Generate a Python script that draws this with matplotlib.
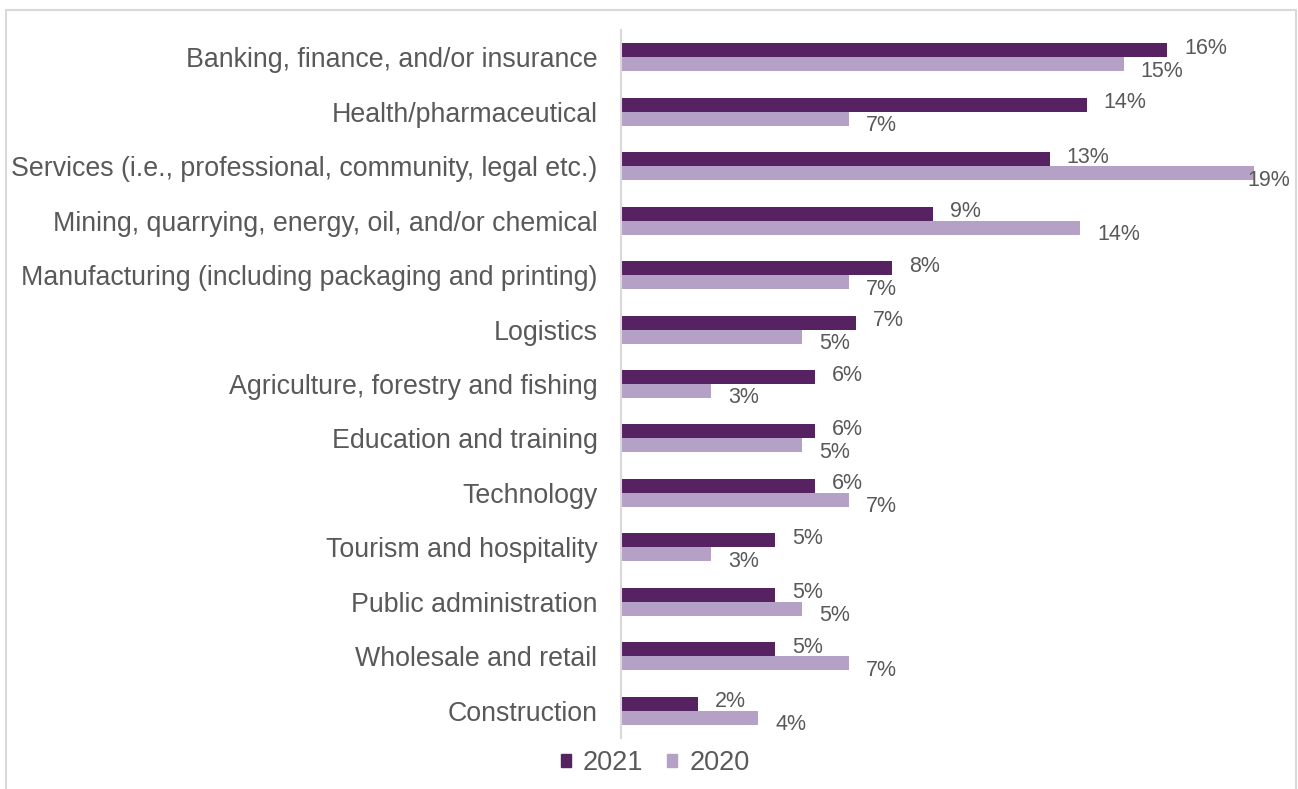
import matplotlib
matplotlib.use("Agg")
import matplotlib.pyplot as plt
from matplotlib.patches import Patch, Rectangle

plt.rcParams["font.family"] = ["Liberation Sans", "DejaVu Sans"]

CATEGORIES = [
    "Banking, finance, and/or insurance",
    "Health/pharmaceutical",
    "Services (i.e., professional, community, legal etc.)",
    "Mining, quarrying, energy, oil, and/or chemical",
    "Manufacturing (including packaging and printing)",
    "Logistics",
    "Agriculture, forestry and fishing",
    "Education and training",
    "Technology",
    "Tourism and hospitality",
    "Public administration",
    "Wholesale and retail",
    "Construction",
]
SHARE_2021 = [16.3, 13.9, 12.8, 9.3, 8.1, 7.0, 5.8, 5.8, 5.8, 4.6, 4.6, 4.6, 2.3]
SHARE_2020 = [15.0, 6.8, 18.9, 13.7, 6.8, 5.4, 2.7, 5.4, 6.8, 2.7, 5.4, 6.8, 4.1]

COLOR_2021 = "#562262"
COLOR_2020 = "#B6A1C6"
TEXT_COLOR = "#595959"
LINE_COLOR = "#D9D9D9"

W, H = 1298, 789
fig = plt.figure(figsize=(W / 100, H / 100), dpi=100)

# outer chart border
fig.patches.append(Rectangle((6 / W, -0.05), (1296 - 6) / W, 1.05 - 10 / H,
                             transform=fig.transFigure, fill=False,
                             edgecolor=LINE_COLOR, linewidth=1.5))

ax = fig.add_axes([621 / W, 1 - 738 / H, 670 / W, 708 / H])
XMAX = 20.0
ax.set_xlim(0, XMAX)
ax.set_ylim(len(CATEGORIES) - 0.5, -0.5)

bar_h = 0.257
ys = list(range(len(CATEGORIES)))
ax.barh([y - bar_h / 2 for y in ys], SHARE_2021, height=bar_h, color=COLOR_2021, label="2021")
ax.barh([y + bar_h / 2 for y in ys], SHARE_2020, height=bar_h, color=COLOR_2020, label="2020")

# value labels just past each bar end, pulled back inside the plot when they'd spill over
px = XMAX / 670.0
for y, v21, v20 in zip(ys, SHARE_2021, SHARE_2020):
    for v, yc, dy in ((v21, y - bar_h / 2, -2), (v20, y + bar_h / 2, 7)):
        text = f"{v:.0f}%"
        x = v + 17 * px
        ha = "left"
        if x + 42 * px > XMAX:
            x, ha = XMAX - 1 * px, "right"
        ax.text(x, yc + dy / 54.5, text, ha=ha, va="center",
                fontsize=15.5, color=TEXT_COLOR)

ax.set_yticks(ys)
ax.set_yticklabels(CATEGORIES, fontsize=19.25, color=TEXT_COLOR)
ax.tick_params(axis="y", length=0, pad=17)
ax.set_xticks([])
for side in ("top", "right", "bottom"):
    ax.spines[side].set_visible(False)
ax.spines["left"].set_color(LINE_COLOR)
ax.spines["left"].set_linewidth(1.5)

handles = [Patch(color=COLOR_2021, label="2021"), Patch(color=COLOR_2020, label="2020")]
leg = fig.legend(handles=handles, loc="center", bbox_to_anchor=(655 / W, 1 - 763 / H),
                 ncol=2, frameon=False, fontsize=19.5, handlelength=0.37,
                 handleheight=0.37, handletextpad=0.44, columnspacing=0.9)
for t in leg.get_texts():
    t.set_color(TEXT_COLOR)

fig.savefig("out.png", dpi=100)
